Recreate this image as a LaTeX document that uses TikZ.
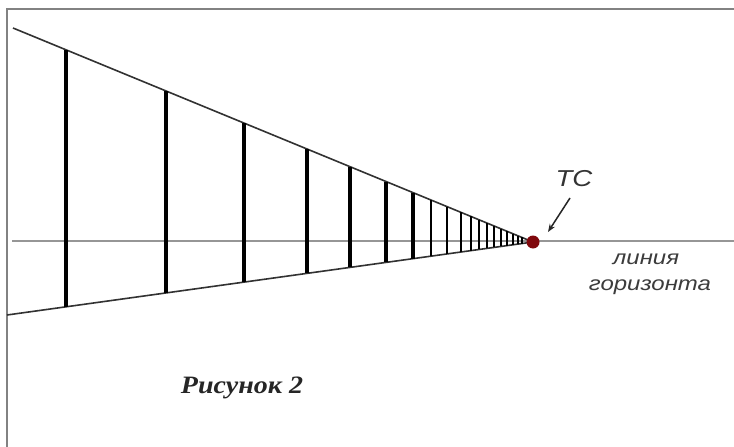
\documentclass[tikz,border=0pt]{standalone}
\usepackage{fontspec}
\setmainfont{Liberation Serif}
\setsansfont{Liberation Sans}
\usetikzlibrary{arrows.meta}
\definecolor{tcred}{RGB}{128,8,12}
\definecolor{framegray}{RGB}{130,130,130}
\definecolor{horgray}{RGB}{150,150,150}
\definecolor{conegray}{RGB}{50,50,50}
\definecolor{labgray}{RGB}{60,60,60}
\tikzset{
  post/.style={line width=4pt, black},
  coneline/.style={line width=1.6pt, conegray},
  horizon/.style={line width=2.4pt, horgray},
  frameline/.style={line width=2pt, framegray},
  lab/.style={font=\sffamily\itshape\fontsize{20}{20}\selectfont, text=labgray, inner sep=0pt, xscale=1.2},
}
\begin{document}
\begin{tikzpicture}[x=1pt,y=-1pt]
\useasboundingbox (0,0) rectangle (734,447);
\fill[white] (0,0) rectangle (734,447);
% frame (open to right and bottom)
\draw[frameline] (7,447) -- (7,9) -- (734,9);
% key points
\coordinate (vp) at (533,242);
\coordinate (topL) at (13,28);
\coordinate (botL) at (7,315);
\coordinate (horL) at (12,241);
\coordinate (horR) at (734,241);
\draw[horizon] (horL) -- (horR);
\draw[coneline] (topL) -- (vp);
\draw[coneline] (botL) -- (vp);
% posts
\foreach \x in {66,166,244,307,350,386,413,431,447,461,471,479,487,494,501,507,513,518,522}{
  \pgfmathsetmacro{\yt}{28+(\x-13)/520*214}
  \pgfmathsetmacro{\yb}{315-(\x-7)/526*73}
  \pgfmathsetmacro{\lw}{4-(\x-66)/456*1.3}
  \draw[post, line width=\lw pt] (\x,\yt) -- (\x,\yb);
}
\node[circle, fill=tcred, minimum size=13pt, inner sep=0pt] (tc) at (vp) {};
\node[lab, font=\sffamily\itshape\fontsize{23}{23}\selectfont, xscale=1, text=black!80] (tclab) at (574,179) {TC};
\coordinate (ast) at (570,198);
\coordinate (aen) at (548,232);
\draw[-{Stealth[length=8pt,width=6pt]}, line width=1.5pt, black!85] (ast) -- (aen);
\node[lab] (l1) at (646,259) {линия};
\node[lab] (l2) at (650,287) {горизонта};
\node[inner sep=0pt, font=\bfseries\itshape\fontsize{25}{25}\selectfont, text=black!85, xscale=1.12] (cap) at (242,388) {Рисунок 2};
\end{tikzpicture}
\end{document}
